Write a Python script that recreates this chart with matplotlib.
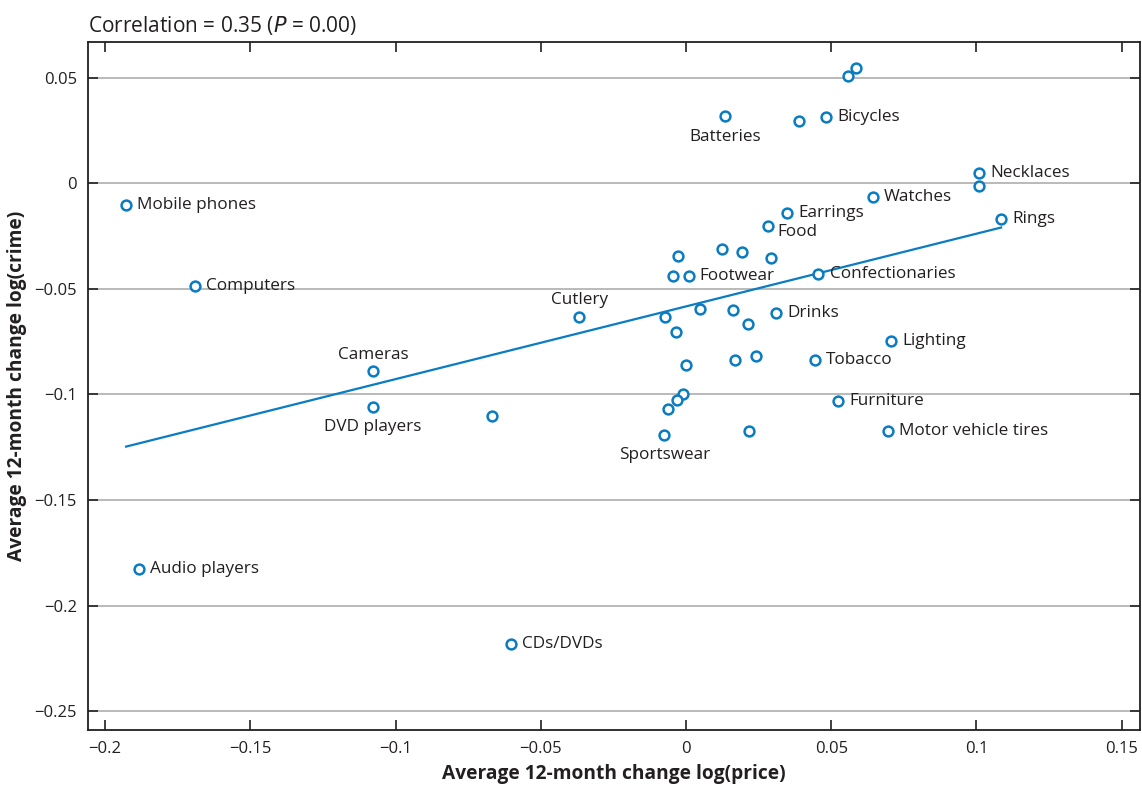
import numpy as np
import matplotlib.pyplot as plt

plt.rcParams['font.family'] = ['Open Sans', 'DejaVu Sans']

# item, price change, crime change
names = ['Mobile phones', 'Computers', 'Cameras', 'DVD players', 'Audio players', 'CDs/DVDs', '',
         'Cutlery', 'Batteries', '', 'Bicycles', '', '', 'Necklaces', '', 'Watches', 'Rings',
         'Earrings', 'Food', 'Confectionaries', 'Lighting', 'Tobacco', 'Furniture',
         'Motor vehicle tires', 'Drinks', '', '', '', '', '', 'Footwear', '', '', '', '', '',
         '', '', '', '', '', '', 'Sportswear', '']
price = [-0.1928, -0.169, -0.1078, -0.1078, -0.1884, -0.0603, -0.0668,
         -0.0367, 0.0135, 0.0388, 0.0483, 0.0559, 0.0585, 0.101, 0.101, 0.0643, 0.1085,
         0.0347, 0.0282, 0.0456, 0.0705, 0.0443, 0.0523,
         0.0694, 0.031, -0.0029, 0.0123, 0.0193, 0.0293, -0.0044, 0.0009, -0.0072,
         0.0047, 0.0163, 0.0215, -0.0034, 0.0001, 0.017, 0.0241, -0.0011, -0.003, -0.0063,
         -0.0075, 0.0217]
crime = [-0.0104, -0.0488, -0.0891, -0.1057, -0.1825, -0.218, -0.1104,
         -0.0632, 0.0318, 0.0294, 0.0316, 0.0507, 0.0545, 0.0049, -0.0013, -0.0065, -0.0169,
         -0.0141, -0.0204, -0.0427, -0.0746, -0.0839, -0.1032,
         -0.1175, -0.0616, -0.0344, -0.031, -0.0324, -0.0352, -0.0439, -0.0438, -0.0635,
         -0.0594, -0.0599, -0.0665, -0.0703, -0.0861, -0.0837, -0.082, -0.1, -0.1024, -0.1071,
         -0.1191, -0.1175]

xticks = [-0.2, -0.15, -0.1, -0.05, 0, 0.05, 0.1, 0.15]
xtick_labels = ['\u22120.2', '\u22120.15', '\u22120.1', '\u22120.05', '0', '0.05', '0.1', '0.15']
yticks = [0.05, 0, -0.05, -0.1, -0.15, -0.2, -0.25]
ytick_labels = ['0.05', '0', '\u22120.05', '\u22120.1', '\u22120.15', '\u22120.2', '\u22120.25']

# label placement: (dx, dy in points, ha, va)
offsets = {
    'Batteries': (0, -9, 'center', 'top'),
    'Cutlery': (0, 6, 'center', 'bottom'),
    'Cameras': (0, 6, 'center', 'bottom'),
    'DVD players': (0, -9, 'center', 'top'),
    'Sportswear': (0, -9, 'center', 'top'),
    'Food': (7, -4, 'left', 'center'),
}

blue = '#0a7cc1'
x = np.array(price)
y = np.array(crime)

fig = plt.figure(figsize=(11.42, 7.90), dpi=100)
ax = fig.add_axes([0.0771, 0.0759, 0.9211, 0.8709])

ax.grid(axis='y', color='#b4b4b4', linewidth=1.3)
ax.set_axisbelow(True)

coeffs = np.polyfit(x, y, 1)
xl = np.array([x.min(), x.max()])
ax.plot(xl, np.polyval(coeffs, xl), color=blue, linewidth=1.6, zorder=2)

ax.scatter(x, y, s=50, facecolors='white', edgecolors=blue, linewidths=1.8, zorder=3)

for n, px, py in zip(names, price, crime):
    if not n:
        continue
    dx, dy, ha, va = offsets.get(n, (8, 0, 'left', 'center'))
    ax.annotate(n, (px, py), xytext=(dx, dy), textcoords='offset points',
                ha=ha, va=va, fontsize=12.3, color='#231f20')

ax.set_xlim(-0.2059, 0.1563)
ax.set_ylim(-0.259, 0.067)
ax.set_xticks(xticks)
ax.set_xticklabels(xtick_labels)
ax.set_yticks(yticks)
ax.set_yticklabels(ytick_labels)
ax.tick_params(direction='in', length=7, width=1.2, color='#231f20', labelsize=12,
               labelcolor='#231f20', top=True, right=True, pad=8)
for s in ax.spines.values():
    s.set_linewidth(1.3)
    s.set_color('#231f20')

ax.set_xlabel('Average 12-month change log(price)', fontsize=13.8, fontweight='bold',
              color='#231f20', labelpad=5)
ax.set_ylabel('Average 12-month change log(crime)', fontsize=13.8, fontweight='bold',
              color='#231f20', labelpad=5)
ax.set_title('Correlation = 0.35 ($\\it{P}$ = 0.00)', loc='left', fontsize=15,
             color='#231f20', pad=7)

fig.savefig('out.png', dpi=100)
